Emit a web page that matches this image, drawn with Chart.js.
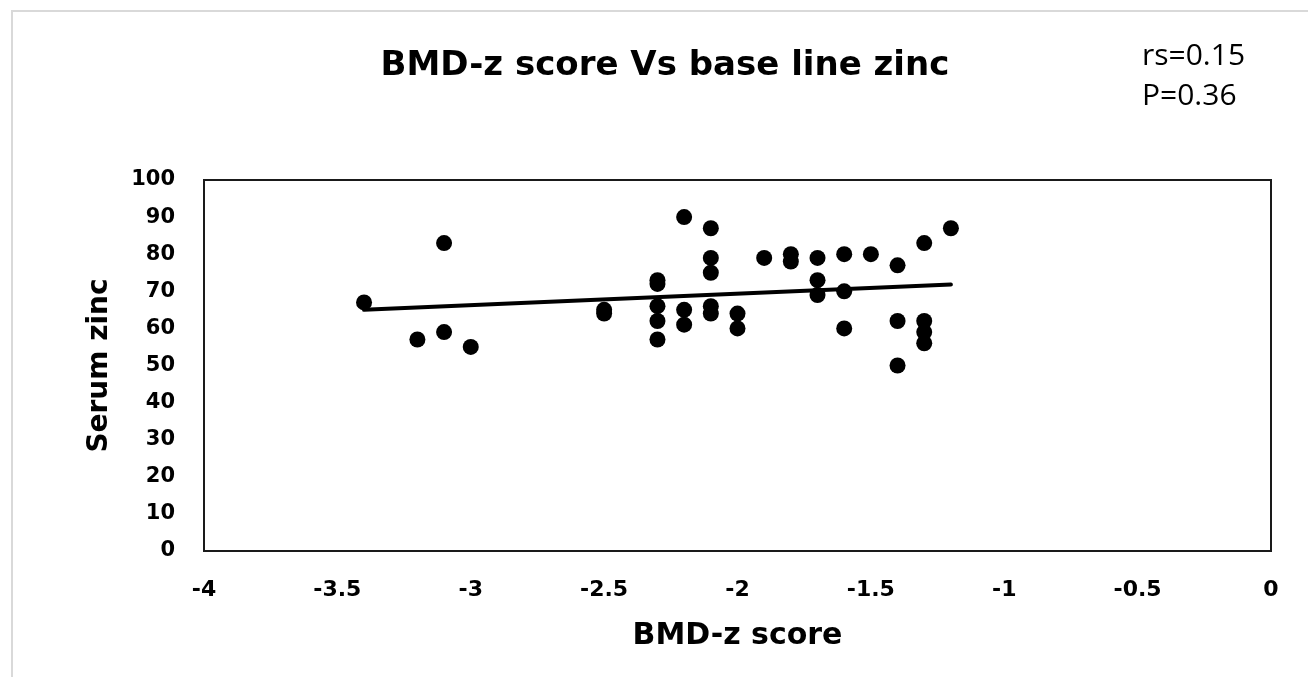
<!DOCTYPE html>
<html>
<head>
<meta charset="utf-8">
<script src="https://cdn.jsdelivr.net/npm/chart.js@4.4.1/dist/chart.umd.min.js"></script>
<style>
  html, body { margin: 0; padding: 0; background: #fff; }
  #wrap { width: 1308px; height: 677px; position: relative; }
</style>
</head>
<body>
<div id="wrap"><canvas id="c" width="1308" height="677"></canvas></div>
<script>
// ---- Data ----
const chartTitle = "BMD-z score Vs base line zinc";
const statLines = ["rs=0.15", "P=0.36"];
const xAxisTitle = "BMD-z score";
const yAxisTitle = "Serum zinc";

const bmdZ = [
  -3.4, -3.2, -3.1, -3.1, -3.0,
  -2.5, -2.5,
  -2.3, -2.3, -2.3, -2.3, -2.3,
  -2.2, -2.2, -2.2,
  -2.1, -2.1, -2.1, -2.1, -2.1,
  -2.0, -2.0,
  -1.9,
  -1.8, -1.8,
  -1.7, -1.7, -1.7,
  -1.6, -1.6, -1.6,
  -1.5,
  -1.4, -1.4, -1.4,
  -1.3, -1.3, -1.3, -1.3,
  -1.2
];
const serumZinc = [
  67, 57, 83, 59, 55,
  65, 64,
  73, 72, 66, 62, 57,
  90, 65, 61,
  87, 79, 75, 66, 64,
  64, 60,
  79,
  80, 78,
  79, 73, 69,
  80, 70, 60,
  80,
  77, 62, 50,
  83, 62, 59, 56,
  87
];
const trendX = [-3.4, -1.2];
const trendY = [65, 71.8];

const xTickValues = [-4, -3.5, -3, -2.5, -2, -1.5, -1, -0.5, 0];
const xTickLabels = ["-4", "-3.5", "-3", "-2.5", "-2", "-1.5", "-1", "-0.5", "0"];
const yTickValues = [0, 10, 20, 30, 40, 50, 60, 70, 80, 90, 100];
const yTickLabels = ["0", "10", "20", "30", "40", "50", "60", "70", "80", "90", "100"];

// ---- Chart ----
const scatterPts = bmdZ.map((x, i) => ({ x: x, y: serumZinc[i] }));
const trendPts = trendX.map((x, i) => ({ x: x, y: trendY[i] }));

const decor = {
  id: 'decor',
  beforeDraw(chart) {
    const ctx = chart.ctx;
    ctx.save();
    ctx.fillStyle = '#ffffff';
    ctx.fillRect(0, 0, chart.width, chart.height);
    ctx.strokeStyle = '#d9d9d9';
    ctx.lineWidth = 2;
    ctx.beginPath();
    ctx.moveTo(12, chart.height);
    ctx.lineTo(12, 11);
    ctx.lineTo(chart.width, 11);
    ctx.stroke();
    ctx.restore();
  },
  afterDraw(chart) {
    const ctx = chart.ctx;
    const a = chart.chartArea;
    ctx.save();
    ctx.strokeStyle = '#1a1a1a';
    ctx.lineWidth = 2;
    ctx.strokeRect(a.left, a.top, a.right - a.left, a.bottom - a.top);
    ctx.fillStyle = '#000';
    ctx.textBaseline = 'middle';
    ctx.textAlign = 'center';
    ctx.font = 'bold 34px "DejaVu Sans"';
    ctx.fillText(chartTitle, 665, 66);
    ctx.textAlign = 'left';
    ctx.font = '30px "Open Sans"';
    ctx.fillText(statLines[0], 1142, 56);
    ctx.fillText(statLines[1], 1142, 96);
    ctx.restore();
  }
};

new Chart(document.getElementById('c'), {
  type: 'scatter',
  data: {
    datasets: [
      {
        label: 'Serum zinc',
        data: scatterPts,
        backgroundColor: '#000',
        borderColor: '#000',
        borderWidth: 0,
        pointRadius: 8,
        pointHoverRadius: 8
      },
      {
        type: 'line',
        label: 'Trend',
        data: trendPts,
        borderColor: '#000',
        borderWidth: 4,
        borderCapStyle: 'round',
        pointRadius: 0,
        fill: false,
        tension: 0
      }
    ]
  },
  options: {
    responsive: false,
    animation: false,
    events: [],
    layout: { padding: { left: 0, top: 180, right: 37, bottom: 0 } },
    plugins: {
      legend: { display: false },
      tooltip: { enabled: false },
      title: { display: false }
    },
    scales: {
      x: {
        type: 'linear',
        min: -4, max: 0,
        afterBuildTicks(scale) { scale.ticks = xTickValues.map(v => ({ value: v })); },
        afterFit(scale) { scale.height = 126; },
        grid: { display: false, drawTicks: false },
        border: { display: false },
        ticks: {
          color: '#000',
          padding: 26,
          maxRotation: 0,
          autoSkip: false,
          font: { family: '"DejaVu Sans"', size: 22, weight: 'bold' },
          callback(v) { const i = xTickValues.indexOf(v); return i >= 0 ? xTickLabels[i] : ''; }
        },
        title: {
          display: true,
          text: xAxisTitle,
          color: '#000',
          font: { family: '"DejaVu Sans"', size: 30, weight: 'bold' },
          padding: { top: 0, bottom: 23 }
        }
      },
      y: {
        type: 'linear',
        min: 0, max: 100,
        afterBuildTicks(scale) { scale.ticks = yTickValues.map(v => ({ value: v })); },
        afterFit(scale) { scale.width = 204; },
        grid: { display: false, drawTicks: false },
        border: { display: false },
        ticks: {
          color: '#000',
          padding: 29,
          autoSkip: false,
          font: { family: '"DejaVu Sans"', size: 21, weight: 'bold' },
          callback(v) { const i = yTickValues.indexOf(v); return i >= 0 ? yTickLabels[i] : ''; }
        },
        title: {
          display: true,
          text: yAxisTitle,
          color: '#000',
          font: { family: '"DejaVu Sans"', size: 28, weight: 'bold' },
          padding: { top: 83, bottom: 0 }
        }
      }
    }
  },
  plugins: [decor]
});
</script>
</body>
</html>
